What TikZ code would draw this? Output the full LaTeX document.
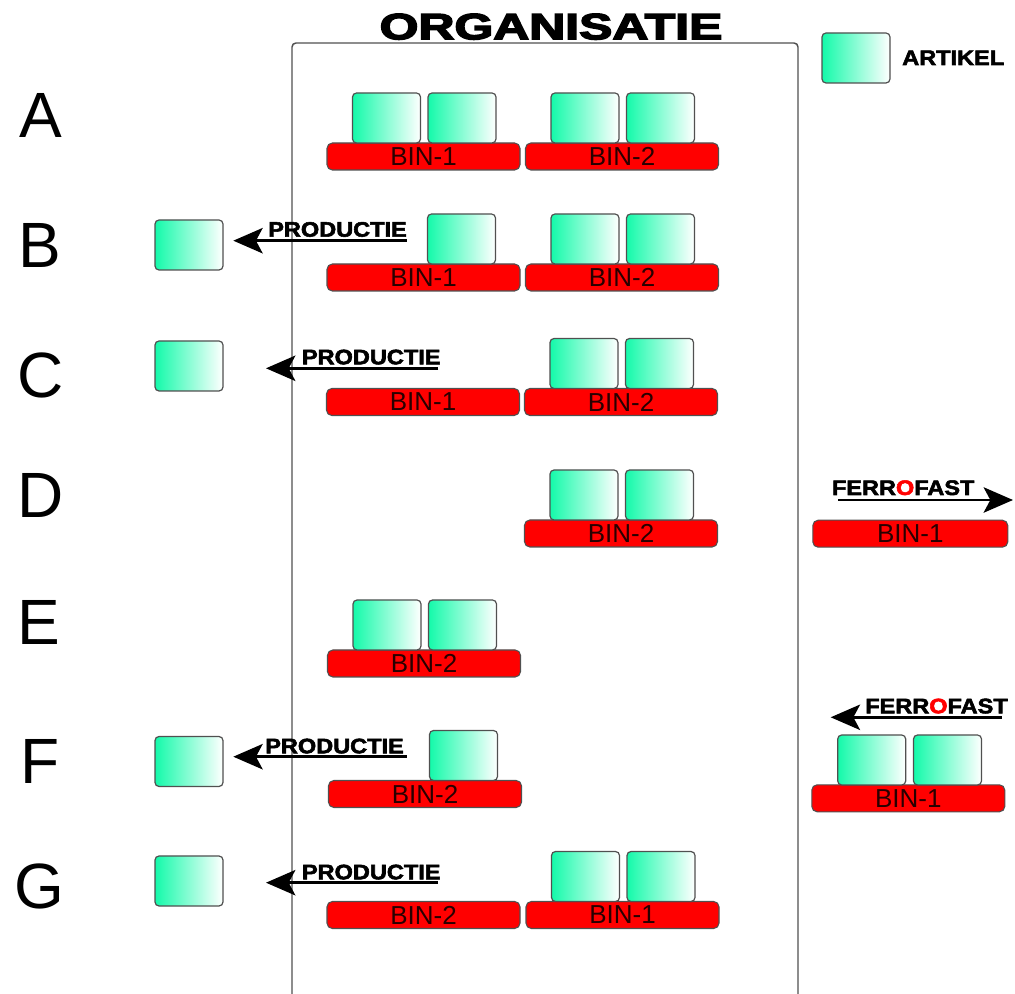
\documentclass[tikz,border=0pt]{standalone}
\usepackage{fontspec}
\setmainfont{Liberation Sans}
\newfontfamily\heavyfont{Liberation Sans}[BoldFeatures={FakeBold=2.5}]
\newfontfamily\titlefont{Liberation Sans}[BoldFeatures={FakeBold=3.5}]
\usetikzlibrary{arrows.meta}
\definecolor{artgreen}{RGB}{20,250,170}
\definecolor{binred}{RGB}{255,0,0}
\definecolor{edgegray}{RGB}{80,80,80}
\definecolor{bintext}{RGB}{40,0,0}
\tikzset{
 artikel/.style={draw=edgegray, line width=0.9pt, rounded corners=3pt, left color=artgreen, right color=white, minimum width=51pt, minimum height=37.5pt, inner sep=0pt},
 bin/.style={draw=edgegray, line width=0.8pt, rounded corners=4pt, fill=binred, minimum width=144.75pt, minimum height=20.25pt, inner sep=0pt, text depth=0pt, font=\fontsize{19.5pt}{20pt}\selectfont, text=bintext},
 rowletter/.style={anchor=base, inner sep=0pt, font=\fontsize{48pt}{50pt}\selectfont},
 lbl/.style={anchor=base west, inner sep=0pt},
 flow/.style={line width=2.2pt, -{Stealth[length=22pt,width=19pt,inset=5pt]}},
 frame/.style={draw=edgegray, line width=1.1pt, rounded corners=3pt},
}
\newcommand{\lbltext}[1]{\scalebox{1.12}[1]{\fontsize{15.75pt}{16pt}\heavyfont\bfseries #1}}
\newcommand{\ferro}{{\color{black}FERR}{\color{red}O}{\color{black}FAST}}
\begin{document}
\begin{tikzpicture}[x=0.75pt,y=-0.75pt]
\useasboundingbox (0,0) rectangle (1015,994);
% organisation frame
\draw[frame] (292,994) -- (292,43) -- (798,43) -- (798,994);
\node[anchor=base, inner sep=0pt] (title) at (551,39.3) {\scalebox{1.36}[1]{\fontsize{27.5pt}{28pt}\titlefont\bfseries ORGANISATIE}};
% legend
\node[artikel] (legbox) at (856,58) {};
\node[lbl] (leglbl) at (902,65) {\lbltext{ARTIKEL}};
% row letters
\node[rowletter] (la) at (41,138) {A};
\node[rowletter] (lb) at (40,268) {B};
\node[rowletter] (lc) at (41,398) {C};
\node[rowletter] (ld) at (41,518) {D};
\node[rowletter] (le) at (39,645) {E};
\node[rowletter] (lf) at (40,784) {F};
\node[rowletter] (lg) at (39,908) {G};
% row A
\node[bin] (a1) at (423.5,156.5) {BIN-1};
\node[bin] (a2) at (622,156.5) {BIN-2};
\node[artikel] (a1x) at (386.5,118) {};
\node[artikel] (a1y) at (462,118) {};
\node[artikel] (a2x) at (585,118) {};
\node[artikel] (a2y) at (660.5,118) {};
% row B
\node[bin] (b1) at (423.5,277.5) {BIN-1};
\node[bin] (b2) at (622,277.5) {BIN-2};
\node[artikel] (b1y) at (461.5,239) {};
\node[artikel] (b2x) at (585,239) {};
\node[artikel] (b2y) at (660.5,239) {};
\node[artikel] (bout) at (189,245) {};
\coordinate (bs) at (406.7,240.7);
\coordinate (be) at (233.3,240.7);
\draw[flow] (bs) -- (be);
\node[lbl] (bl) at (268,236.7) {\lbltext{PRODUCTIE}};
% row C
\node[bin] (c1) at (423,402) {BIN-1};
\node[bin] (c2) at (621,402) {BIN-2};
\node[artikel] (c2x) at (584,363.5) {};
\node[artikel] (c2y) at (659.5,363.5) {};
\node[artikel] (cout) at (189,366) {};
\coordinate (cs) at (438.3,368.3);
\coordinate (ce) at (266,368.3);
\draw[flow] (cs) -- (ce);
\node[lbl] (cl) at (301.7,364.3) {\lbltext{PRODUCTIE}};
% row D
\node[bin] (d2) at (621,533.5) {BIN-2};
\node[artikel] (d2x) at (584,495) {};
\node[artikel] (d2y) at (659.5,495) {};
\node[bin, minimum width=146.25pt] (d1) at (910.3,533.7) {BIN-1};
\coordinate (ds) at (838,500);
\coordinate (de) at (1013,500);
\draw[flow] (ds) -- (de);
\node[lbl] (dl) at (831.7,495) {\lbltext{\ferro}};
% row E
\node[bin] (e2) at (424,663.5) {BIN-2};
\node[artikel] (e2x) at (387,625) {};
\node[artikel] (e2y) at (462.5,625) {};
% row F
\node[bin] (f2) at (425,794) {BIN-2};
\node[artikel] (f2y) at (463.5,755.5) {};
\node[artikel] (fout) at (189,761.5) {};
\coordinate (fs) at (406.7,756.7);
\coordinate (fe) at (233.3,756.7);
\draw[flow] (fs) -- (fe);
\node[lbl] (fl) at (265,753.3) {\lbltext{PRODUCTIE}};
\node[bin] (f1) at (908.3,798.3) {BIN-1};
\node[artikel] (f1x) at (871.7,760) {};
\node[artikel] (f1y) at (947.5,760) {};
\coordinate (frs) at (1001.7,717.3);
\coordinate (fre) at (830.7,717.3);
\draw[flow] (frs) -- (fre);
\node[lbl] (frl) at (865,713.3) {\lbltext{\ferro}};
% row G
\node[bin] (g2) at (423.5,915) {BIN-2};
\node[bin] (g1) at (622.5,915) {BIN-1};
\node[artikel] (g1x) at (585.5,876.5) {};
\node[artikel] (g1y) at (661,876.5) {};
\node[artikel] (gout) at (189,881) {};
\coordinate (gs) at (438,882.7);
\coordinate (ge) at (266,882.7);
\draw[flow] (gs) -- (ge);
\node[lbl] (gl) at (301.7,879.3) {\lbltext{PRODUCTIE}};
\end{tikzpicture}
\end{document}
